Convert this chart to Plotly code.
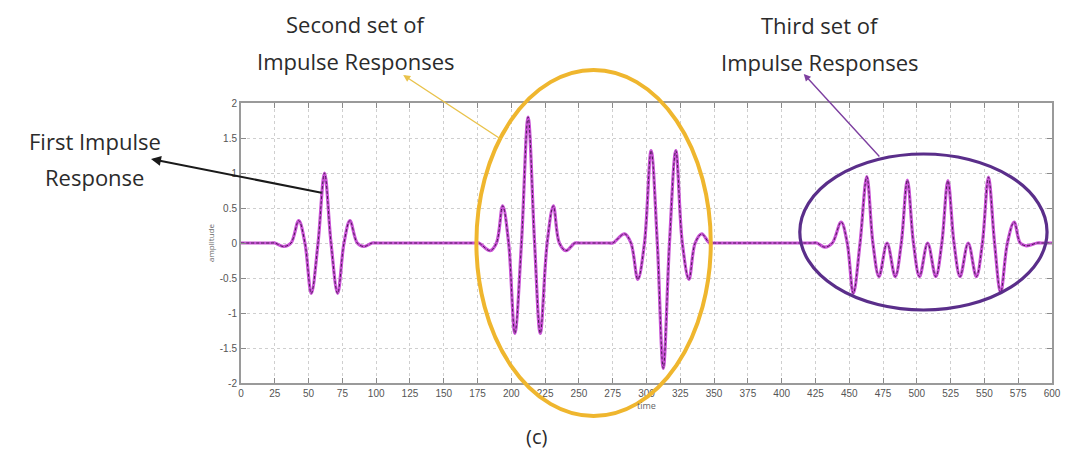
import plotly.graph_objects as go

# ---- signal: extrema / zero-crossing samples of each impulse response ----
# flat lead-in
t_lead = [0, 22]
a_lead = [0, 0]

# first impulse response
t_first = [25, 31.5, 37, 42.7, 47.3, 52, 57, 61.8, 66.6, 71.5, 76.2, 80.6, 86, 91, 97, 100]
a_first = [0, -0.05, 0, 0.32, 0, -0.72, 0, 1.00, 0, -0.72, 0, 0.32, 0, -0.05, 0, 0]

# second set: two responses
t_second_a = [173, 176, 184.3, 189, 193.6, 198, 202.6, 207.5, 212.4, 217.2, 221.4,
              226.5, 231.1, 235.5, 240.4, 247, 250]
a_second_a = [0, 0, -0.11, 0, 0.53, 0, -1.29, 0, 1.80, 0, -1.29,
              0, 0.53, 0, -0.11, 0, 0]

t_second_b = [272, 275, 283.8, 288.5, 293.6, 298.5, 303.4, 308, 312.4, 317, 321.7,
              326.5, 331.4, 336, 340.9, 346.5, 349]
a_second_b = [0, 0, 0.13, 0, -0.52, 0, 1.32, 0, -1.79, 0, 1.32,
              0, -0.52, 0, 0.13, 0, 0]

# third set: overlapping responses
t_third = [423, 426, 432, 437.5, 444, 448.5, 453, 458, 463, 467.5, 472, 478, 484,
           488.5, 493, 497.5, 502, 508, 514, 518.5, 523, 527.5, 532, 538, 544,
           548.5, 553, 557.5, 562, 567, 572, 576.5, 581, 589, 592]
a_third = [0, 0, -0.06, 0, 0.30, 0, -0.72, 0, 0.95, 0, -0.48, 0, -0.48,
           0, 0.90, 0, -0.48, 0, -0.48, 0, 0.89, 0, -0.48, 0, -0.48,
           0, 0.94, 0, -0.71, 0, 0.30, 0, -0.04, 0, 0]

t_tail = [600]
a_tail = [0]

time = t_lead + t_first + t_second_a + t_second_b + t_third + t_tail
amplitude = a_lead + a_first + a_second_a + a_second_b + a_third + a_tail

x_ticks = list(range(0, 601, 25))
y_ticks = [-2, -1.5, -1, -0.5, 0, 0.5, 1, 1.5, 2]
y_tick_text = ["-2", "-1.5", "-1", "-0.5", "0", "0.5", "1", "1.5", "2"]

# ---- plot-area geometry (pixels) used for callouts ----
W, H = 1071, 455
L, R, T, B = 241, 1061, 103, 383


def px(x):
    return (x - L) / (R - L)


def py(y):
    return (B - y) / (B - T)


fig = go.Figure()
fig.add_trace(go.Scatter(
    x=time, y=amplitude, mode="lines",
    line=dict(color="#c952d6", width=3.2, shape="spline", smoothing=1.0),
    hoverinfo="skip", showlegend=False,
))
fig.add_trace(go.Scatter(
    x=time, y=amplitude, mode="lines",
    line=dict(color="#4a1d52", width=1.0, shape="spline", smoothing=1.0, dash="3px,2px"),
    hoverinfo="skip", showlegend=False,
))

axis_common = dict(
    showline=True, linecolor="#9a9a9a", linewidth=2, mirror="ticks",
    ticks="inside", ticklen=5, tickcolor="#8a8a8a", tickwidth=1,
    showgrid=True, gridcolor="#cfcfcf", griddash="dot", gridwidth=1,
    zeroline=False,
    tickfont=dict(family="Liberation Sans Narrow, Liberation Sans, Arial", size=10, color="#555555"),
)

fig.update_xaxes(range=[0, 600], tickvals=x_ticks, ticktext=[str(v) for v in x_ticks],
                 title=dict(text="time", font=dict(size=9, color="#666666"), standoff=2),
                 **axis_common)
fig.update_yaxes(range=[-2, 2], tickvals=y_ticks, ticktext=y_tick_text,
                 title=dict(text="amplitude", font=dict(size=8, color="#666666"), standoff=4),
                 **axis_common)

label_font = dict(family="Open Sans, Noto Sans, sans-serif", size=22, color="#2b2b2b")

texts = [
    ("First Impulse", 93, 141, 22),
    ("Response", 93, 177, 22),
    ("Second set of", 357, 24, 22),
    ("Impulse Responses", 357, 61, 22),
    ("Third set of", 826, 25, 22),
    ("Impulse Responses", 826, 62, 22),
    ("(c)", 540, 436, 20),
]
annotations = []
for txt, x, y, size in texts:
    annotations.append(dict(
        text=txt, x=px(x), y=py(y), xref="paper", yref="paper",
        xanchor="center", yanchor="middle", showarrow=False,
        font=dict(label_font, size=size),
    ))

# callout arrows: (head x, head y, tail x, tail y, colour, width)
arrows = [
    (150, 159, 322, 193, "#1a1a1a", 2.0),
    (405, 75, 504, 140, "#e9c24a", 1.4),
    (810, 74, 887, 158, "#7d3fa0", 1.4),
]
for hx, hy, tx, ty, col, w in arrows:
    annotations.append(dict(
        x=px(hx), y=py(hy), xref="paper", yref="paper",
        ax=tx - hx, ay=ty - hy, axref="pixel", ayref="pixel",
        showarrow=True, arrowhead=2, arrowsize=1, arrowwidth=w, arrowcolor=col,
        text="",
    ))

shapes = [
    dict(type="circle", xref="paper", yref="paper",
         x0=px(479), x1=px(716), y0=py(416), y1=py(70),
         line=dict(color="#efb62e", width=4), layer="above"),
    dict(type="circle", xref="paper", yref="paper",
         x0=px(806), x1=px(1056), y0=py(310), y1=py(154),
         line=dict(color="#5a2e8a", width=3.2), layer="above"),
]

fig.update_layout(
    width=W, height=H,
    margin=dict(l=L, r=W - R, t=T, b=H - B),
    paper_bgcolor="white", plot_bgcolor="white",
    annotations=annotations, shapes=shapes,
    showlegend=False,
)

fig.write_html("out.html")
